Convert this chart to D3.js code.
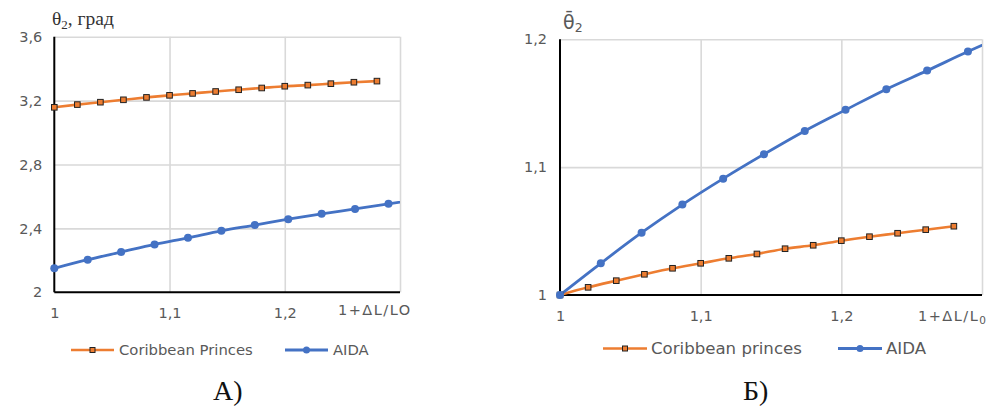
<!DOCTYPE html>
<html><head><meta charset="utf-8">
<script src="https://cdn.jsdelivr.net/npm/d3@7"></script>
<style>body{margin:0;background:#fff}svg{display:block}</style>
</head><body>
<svg id="c" width="988" height="410"></svg>
<script>
// ---- data ----
const xOrange = [1,1.02,1.04,1.06,1.08,1.10,1.12,1.14,1.16,1.18,1.20,1.22,1.24,1.26,1.28];
const xBlue   = [1,1.029,1.058,1.087,1.116,1.145,1.174,1.203,1.232,1.261,1.29,1.319];
const orangeA = [3.158,3.175,3.19,3.205,3.22,3.233,3.245,3.257,3.268,3.279,3.29,3.297,3.306,3.315,3.322];
const blueA   = [2.15,2.204,2.252,2.30,2.341,2.385,2.421,2.458,2.491,2.522,2.554,2.584];
const orangeB = [1.0,1.006,1.0112,1.0162,1.0209,1.0248,1.0287,1.0321,1.0362,1.0389,1.0425,1.0456,1.0483,1.0511,1.0538];
const blueB   = [1.0,1.0248,1.0487,1.0707,1.091,1.1101,1.1283,1.1448,1.161,1.1755,1.1904,1.2045];
const xTicks  = [1,1.1,1.2];
const yTicksA = [2,2.4,2.8,3.2,3.6];
const yTicksB = [1,1.1,1.2];
const legendA = ["Coribbean Princes","AIDA"];
const legendB = ["Coribbean princes","AIDA"];

const ORANGE="#ED7D31", BLUE="#4472C4", GRID="#d9d9d9", TXT="#595959";
const loc = d3.formatLocale({decimal:",",thousands:" ",grouping:[3],currency:["",""]});
const fmt = loc.format(".1~f");
const svg = d3.select("#c");

function panel(o){
  const g = svg.append("g");
  const x = d3.scaleLinear().domain([1,1.3]).range([o.x0,o.x1]);
  const y = d3.scaleLinear().domain(o.ydom).range([o.y0,o.y1]);
  // grid
  g.append("g").attr("transform",`translate(0,${o.y0})`)
    .call(d3.axisBottom(x).tickValues([1.1,1.2,1.3]).tickSize(-(o.y0-o.y1)).tickFormat(""))
    .call(s=>{s.select(".domain").remove();s.selectAll("line").attr("stroke",GRID).attr("stroke-width",1.6);});
  g.append("g").attr("transform",`translate(${o.x0},0)`)
    .call(d3.axisLeft(y).tickValues(o.yticks.slice(1)).tickSize(-(o.x1-o.x0)).tickFormat(""))
    .call(s=>{s.select(".domain").remove();s.selectAll("line").attr("stroke",GRID).attr("stroke-width",1.6);});
  // tick labels
  g.append("g").attr("transform",`translate(0,${o.y0})`)
    .call(d3.axisBottom(x).tickValues(xTicks).tickSize(0).tickPadding(o.xpad).tickFormat(fmt))
    .call(s=>{s.select(".domain").remove();s.selectAll("text").attr("fill",TXT).attr("font-family","DejaVu Sans").attr("font-size",14.5);});
  g.append("g").attr("transform",`translate(${o.x0},0)`)
    .call(d3.axisLeft(y).tickValues(o.yticks).tickSize(0).tickPadding(o.ypad).tickFormat(fmt))
    .call(s=>{s.select(".domain").remove();s.selectAll("text").attr("fill",TXT).attr("font-family","DejaVu Sans").attr("font-size",14.5);});
  // axes lines
  g.append("line").attr("x1",o.x0).attr("x2",o.x0).attr("y1",o.y1).attr("y2",o.y0).attr("stroke","#000").attr("stroke-width",2);
  g.append("line").attr("x1",o.x0).attr("x2",o.x1).attr("y1",o.y0).attr("y2",o.y0).attr("stroke","#000").attr("stroke-width",2);
  // clip
  const id="clip"+o.id;
  svg.append("clipPath").attr("id",id).append("rect").attr("x",o.x0-6).attr("y",o.y1-6).attr("width",o.x1-o.x0+6).attr("height",o.y0-o.y1+12);
  const line = d3.line().x(d=>x(d[0])).y(d=>y(d[1])).curve(d3.curveMonotoneX);
  const od = xOrange.map((v,i)=>[v,o.orange[i]]);
  const bd = xBlue.map((v,i)=>[v,o.blue[i]]);
  const pg = g.append("g").attr("clip-path",`url(#${id})`);
  pg.append("path").datum(od).attr("d",line).attr("fill","none").attr("stroke",ORANGE).attr("stroke-width",2.6);
  pg.append("path").datum(bd).attr("d",line).attr("fill","none").attr("stroke",BLUE).attr("stroke-width",2.8);
  pg.selectAll(".sq").data(od).join("rect").attr("x",d=>x(d[0])-2.8).attr("y",d=>y(d[1])-2.8)
    .attr("width",5.6).attr("height",5.6).attr("fill",ORANGE).attr("stroke","#222").attr("stroke-width",1);
  pg.selectAll(".ci").data(bd.filter(d=>d[0]<=1.3)).join("circle").attr("cx",d=>x(d[0])).attr("cy",d=>y(d[1])).attr("r",4).attr("fill",BLUE);
  // legend
  const lg = svg.append("g").attr("font-family","DejaVu Sans").attr("font-size",o.lfs).attr("fill",TXT);
  const L=o.leg;
  lg.append("line").attr("x1",L.o0).attr("x2",L.o1).attr("y1",L.y).attr("y2",L.y).attr("stroke",ORANGE).attr("stroke-width",2.6);
  lg.append("rect").attr("x",(L.o0+L.o1)/2-2.5).attr("y",L.y-2.5).attr("width",5).attr("height",5).attr("fill",ORANGE).attr("stroke","#222").attr("stroke-width",1);
  lg.append("text").attr("x",L.t0).attr("y",L.y).attr("dy","0.36em").text(o.names[0]);
  lg.append("line").attr("x1",L.b0).attr("x2",L.b1).attr("y1",L.y).attr("y2",L.y).attr("stroke",BLUE).attr("stroke-width",2.8);
  lg.append("circle").attr("cx",(L.b0+L.b1)/2).attr("cy",L.y).attr("r",3.5).attr("fill",BLUE);
  lg.append("text").attr("x",L.t1).attr("y",L.y).attr("dy","0.36em").text(o.names[1]);
  return {x,y};
}

panel({id:"A",x0:54.3,x1:400,y0:292.3,y1:36.7,ydom:[2,3.6],yticks:yTicksA,xpad:15,ypad:12,
  orange:orangeA,blue:blueA,names:legendA,lfs:14.8,
  leg:{y:350,o0:71,o1:114,t0:119,b0:285,b1:328,t1:333}});
panel({id:"B",x0:560,x1:982,y0:295,y1:39.3,ydom:[1,1.2],yticks:yTicksB,xpad:16,ypad:13,
  orange:orangeB,blue:blueB,names:legendB,lfs:16.6,
  leg:{y:348.5,o0:603,o1:647,t0:651,b0:838,b1:882,t1:886}});

// titles
const tA = svg.append("text").attr("x",52).attr("y",25).attr("font-family","Liberation Serif").attr("font-size",19.5).attr("fill","#333");
tA.append("tspan").text("θ");
tA.append("tspan").attr("font-size",13).attr("dy",4).text("2");
tA.append("tspan").attr("dy",-4).text(", град");

const tB = svg.append("text").attr("x",563).attr("y",29).attr("font-family","DejaVu Sans").attr("font-size",19).attr("fill",TXT);
tB.append("tspan").text("θ\u0304");
tB.append("tspan").attr("font-size",12.5).attr("dy",3).text("2");

// x-axis titles
svg.append("text").attr("x",338).attr("y",315).attr("font-family","DejaVu Sans").attr("font-size",14.5)
  .attr("letter-spacing",1.5).attr("fill",TXT).text("1+ΔL/LO");
const xb = svg.append("text").attr("x",918).attr("y",321).attr("font-family","DejaVu Sans").attr("font-size",14.5)
  .attr("letter-spacing",1.5).attr("fill",TXT);
xb.append("tspan").text("1+ΔL/L");
xb.append("tspan").attr("font-size",10.5).attr("dy",3).text("0");

// panel captions
svg.append("text").attr("x",213).attr("y",400).attr("font-family","Liberation Serif").attr("font-size",28).attr("fill","#111").text("А)");
svg.append("text").attr("x",743).attr("y",400).attr("font-family","Liberation Serif").attr("font-size",28).attr("fill","#111").text("Б)");
</script>
</body></html>
